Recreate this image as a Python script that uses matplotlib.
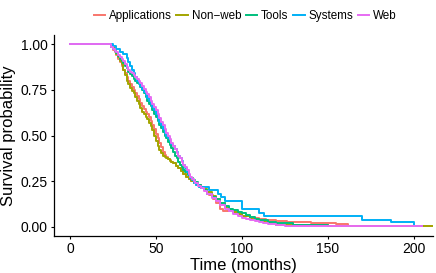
import matplotlib
matplotlib.use("Agg")
import matplotlib.pyplot as plt
from matplotlib.ticker import FormatStrFormatter

plt.rcParams['font.family'] = ['Liberation Sans', 'DejaVu Sans']

# Kaplan-Meier style survival curves (months, survival)
groups = ["Applications", "Non\u2212web", "Tools", "Systems", "Web"]
colors = ["#F8766D", "#A3A500", "#00BF7D", "#00B0F6", "#E76BF3"]

apps_t = [0, 24, 25, 26, 27, 28, 29, 30, 31, 32, 33, 34, 35, 36, 37, 38, 39, 40, 41, 42, 43,
          44, 45, 46, 47, 48, 49, 50, 51, 52, 53, 54, 55, 56, 57, 58, 59, 60, 61.5, 63, 64.5,
          66, 67.5, 69, 70.5, 72, 73.5, 75, 76.5, 78, 79.5, 81, 83, 85, 87, 89, 96, 100, 105,
          110, 114, 120, 126, 140, 155, 162, 210]
apps_s = [1.0, 0.985, 0.97, 0.955, 0.94, 0.92, 0.90, 0.88, 0.86, 0.84, 0.82, 0.80, 0.78,
          0.765, 0.75, 0.735, 0.715, 0.70, 0.68, 0.66, 0.645, 0.63, 0.62, 0.60, 0.58, 0.56,
          0.535, 0.51, 0.485, 0.46, 0.435, 0.41, 0.395, 0.38, 0.37, 0.365, 0.355, 0.35, 0.335,
          0.32, 0.305, 0.29, 0.275, 0.26, 0.25, 0.24, 0.23, 0.22, 0.21, 0.20, 0.19, 0.175,
          0.155, 0.13, 0.10, 0.085, 0.07, 0.06, 0.05, 0.045, 0.038, 0.033, 0.029, 0.021, 0.015,
          0.005, 0.004]

nonweb_t = [0, 24, 25, 26, 27, 28, 29, 30, 31, 32, 33, 34, 35, 36, 37, 38, 39, 40, 41, 42,
            43, 44, 45, 46, 47, 48, 49, 50, 51, 52, 53, 54, 55, 56, 57, 58, 59, 60, 61.5, 63,
            64.5, 66, 67.5, 69, 70.5, 72, 74, 76, 78, 80, 82.5, 85, 87.5, 90, 92.5, 95, 97.5,
            100, 105, 110, 115, 120, 130, 150, 211]
nonweb_s = [1.0, 0.99, 0.98, 0.96, 0.945, 0.93, 0.91, 0.89, 0.86, 0.83, 0.80, 0.78, 0.76,
            0.745, 0.73, 0.71, 0.69, 0.67, 0.65, 0.63, 0.615, 0.60, 0.59, 0.57, 0.55, 0.53,
            0.50, 0.47, 0.445, 0.42, 0.405, 0.39, 0.385, 0.375, 0.37, 0.36, 0.355, 0.35, 0.335,
            0.32, 0.305, 0.29, 0.275, 0.26, 0.25, 0.24, 0.23, 0.22, 0.205, 0.19, 0.17, 0.15,
            0.13, 0.11, 0.095, 0.08, 0.07, 0.06, 0.045, 0.03, 0.02, 0.012, 0.008, 0.005, 0.003]

tools_t = [0, 24, 25, 26, 27, 28, 29, 30, 31, 32, 33, 34, 35, 36, 37, 38, 39, 40, 41, 42, 43,
           44, 45, 46, 47, 48, 49, 50, 51, 52, 53, 54, 55, 56, 57, 58, 59, 60, 61, 62, 63, 64,
           65, 66, 67, 68.5, 70, 71.5, 73, 74.5, 76, 78, 80, 82.5, 85, 87.5, 90, 92.5, 95,
           97.5, 100, 102.5, 105, 107.5, 110, 115, 120, 130, 140, 150]
tools_s = [1.0, 0.985, 0.975, 0.96, 0.95, 0.935, 0.92, 0.91, 0.895, 0.88, 0.87, 0.85, 0.835,
           0.825, 0.81, 0.80, 0.79, 0.78, 0.765, 0.75, 0.73, 0.71, 0.69, 0.675, 0.66, 0.64,
           0.62, 0.60, 0.58, 0.56, 0.54, 0.52, 0.50, 0.485, 0.465, 0.45, 0.43, 0.41, 0.39,
           0.375, 0.355, 0.34, 0.325, 0.31, 0.30, 0.285, 0.27, 0.255, 0.245, 0.23, 0.215, 0.20,
           0.18, 0.165, 0.15, 0.13, 0.115, 0.10, 0.09, 0.08, 0.075, 0.065, 0.055, 0.045, 0.038,
           0.028, 0.02, 0.012, 0.008, 0.004]

systems_t = [0, 25, 27, 29, 31, 33, 34, 35, 36, 37, 38, 39, 40, 41, 42, 43, 44, 45, 46, 47,
             48, 49, 50, 51, 52, 53, 54, 55, 56, 57, 58, 59, 60, 61, 62, 63, 64, 65, 66, 67,
             68, 69, 70, 71, 72, 73.5, 75, 81, 86, 88, 90, 100, 110, 113, 170, 187, 200, 205]
systems_s = [1.0, 0.99, 0.975, 0.955, 0.945, 0.925, 0.90, 0.88, 0.86, 0.84, 0.82, 0.80,
             0.785, 0.77, 0.755, 0.74, 0.72, 0.705, 0.69, 0.675, 0.655, 0.64, 0.62, 0.595,
             0.575, 0.555, 0.535, 0.515, 0.50, 0.485, 0.47, 0.455, 0.44, 0.425, 0.41, 0.39,
             0.375, 0.36, 0.34, 0.32, 0.30, 0.285, 0.27, 0.255, 0.24, 0.23, 0.22, 0.20, 0.18,
             0.165, 0.14, 0.10, 0.075, 0.06, 0.04, 0.025, 0.005, 0.004]

web_t = [0, 24, 25, 26, 27, 28, 29, 30, 31, 32, 33, 34, 35, 36, 37, 38, 39, 40, 41, 42, 43,
         44, 45, 46, 47, 48, 49, 50, 51, 52, 53, 54, 55, 56, 57, 58, 59, 60, 61, 62, 63, 64,
         65, 66, 67, 68, 69, 70, 71, 72, 73, 74.5, 76, 78, 80, 82.5, 85, 87.5, 90, 92.5, 95,
         97.5, 100, 102.5, 105, 107.5, 110, 112.5, 115, 117.5, 120, 122.5, 125, 205]
web_s = [1.0, 0.985, 0.975, 0.965, 0.955, 0.94, 0.93, 0.92, 0.905, 0.89, 0.875, 0.86, 0.85,
         0.84, 0.83, 0.82, 0.81, 0.80, 0.785, 0.77, 0.755, 0.74, 0.725, 0.71, 0.69, 0.675,
         0.655, 0.64, 0.615, 0.595, 0.575, 0.555, 0.535, 0.515, 0.50, 0.48, 0.46, 0.44, 0.425,
         0.405, 0.39, 0.375, 0.355, 0.34, 0.325, 0.31, 0.29, 0.275, 0.26, 0.25, 0.24, 0.225,
         0.21, 0.195, 0.18, 0.16, 0.14, 0.12, 0.10, 0.085, 0.07, 0.06, 0.05, 0.042, 0.035,
         0.03, 0.025, 0.02, 0.016, 0.013, 0.01, 0.008, 0.006, 0.003]

times = [apps_t, nonweb_t, tools_t, systems_t, web_t]
surv = [apps_s, nonweb_s, tools_s, systems_s, web_s]

fig = plt.figure(figsize=(4.36, 2.73), dpi=100)
ax = fig.add_axes([54 / 436, 37 / 273, 379 / 436, 201 / 273])

for name, col, t, s in zip(groups, colors, times, surv):
    ax.plot(t, s, drawstyle="steps-post", color=col, lw=1.4, label=name)

ax.set_xlim(-9.3, 211.2)
ax.set_ylim(-0.05, 1.05)
ax.set_xticks([0, 50, 100, 150, 200])
ax.set_yticks([0, 0.25, 0.5, 0.75, 1.0])
ax.yaxis.set_major_formatter(FormatStrFormatter("%.2f"))

for side in ["top", "right"]:
    ax.spines[side].set_visible(False)
for side in ["left", "bottom"]:
    ax.spines[side].set_linewidth(0.9)
ax.tick_params(length=2.5, width=0.8, labelsize=10, pad=2, colors="black")

ax.set_xlabel("Time (months)", fontsize=12, labelpad=1)
ax.set_ylabel("Survival probability", fontsize=12, labelpad=3)

fig.legend(loc="center", bbox_to_anchor=(245 / 436, 1 - 16 / 273), ncol=5, frameon=False,
           fontsize=8.4, handlelength=1.0, handletextpad=0.3, columnspacing=0.4,
           borderaxespad=0)

fig.savefig("out.png", dpi=100)
